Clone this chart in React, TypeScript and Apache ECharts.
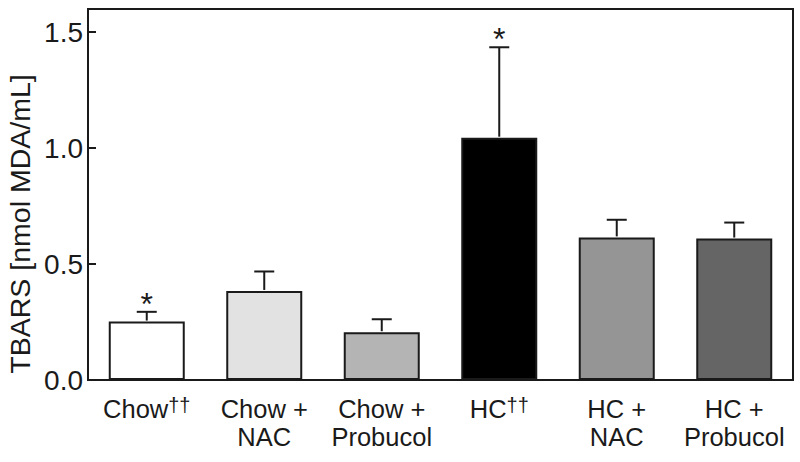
import React, { useEffect, useRef } from "react";
import * as echarts from "echarts";

const categories = ["Chow", "Chow +\nNAC", "Chow +\nProbucol", "HC", "HC +\nNAC", "HC +\nProbucol"];
const superscripts = ["††", "", "", "††", "", ""];
const means = [0.252, 0.384, 0.206, 1.045, 0.615, 0.61];
const errorTops = [0.294, 0.468, 0.262, 1.435, 0.691, 0.679];
const significance = ["*", "", "", "*", "", ""];
const barColors = ["#ffffff", "#e2e2e2", "#b4b4b4", "#000000", "#959595", "#656565"];
const yTicks = [0, 0.5, 1.0, 1.5];

const FONT = "'Liberation Sans', Arial, Helvetica, sans-serif";

export default function App() {
  const ref = useRef<HTMLDivElement>(null);
  useEffect(() => {
    document.body.style.margin = "0";
    if (!ref.current) return;
    const chart = echarts.init(ref.current, null, { renderer: "svg" });
    const option = {
      animation: false,
      backgroundColor: "#ffffff",
      textStyle: { fontFamily: FONT },
      grid: {
        left: 88,
        right: 7,
        top: 9,
        bottom: 82,
        show: true,
        borderColor: "#1a1a1a",
        borderWidth: 2,
        containLabel: false,
      },
      graphic: [
        {
          type: "text",
          x: 20,
          y: 224,
          rotation: Math.PI / 2,
          style: {
            text: "TBARS [nmol MDA/mL]",
            fontSize: 28.5,
            fontFamily: FONT,
            fill: "#1a1a1a",
            align: "center",
            verticalAlign: "middle",
          },
        },
      ],
      xAxis: {
        type: "category",
        data: categories,
        boundaryGap: true,
        axisLine: { show: true, lineStyle: { color: "#1a1a1a", width: 2 } },
        axisTick: { show: false },
        axisLabel: {
          interval: 0,
          margin: 15,
          fontSize: 25.5,
          lineHeight: 28,
          color: "#1a1a1a",
          fontFamily: FONT,
          formatter: (v: string, i: number) =>
            superscripts[i] ? `${v}{sup|${superscripts[i]}}` : v,
          rich: {
            sup: { fontSize: 20, verticalAlign: "top", color: "#1a1a1a", fontFamily: FONT, lineHeight: 28 },
          },
        },
      },
      yAxis: {
        type: "value",
        min: 0,
        max: 1.6,
        interval: 0.5,
        axisLine: { show: true, lineStyle: { color: "#1a1a1a", width: 2 } },
        axisTick: { show: true, inside: true, length: 8, lineStyle: { color: "#1a1a1a", width: 2 } },
        splitLine: { show: false },
        axisLabel: {
          margin: 5,
          fontSize: 28,
          color: "#1a1a1a",
          fontFamily: FONT,
          showMaxLabel: false,
          formatter: (v: number) => (yTicks.some((t) => Math.abs(t - v) < 1e-9) ? v.toFixed(1) : ""),
        },
      },
      series: [
        {
          type: "bar",
          barWidth: 76,
          data: means.map((m, i) => ({
            value: m,
            itemStyle: { color: barColors[i], borderColor: "#1a1a1a", borderWidth: 2 },
          })),
          z: 2,
        },
        {
          type: "custom",
          z: 3,
          data: means.map((m, i) => [i, m, errorTops[i]]),
          renderItem: (params: any, api: any) => {
            const i = api.value(0);
            const p0 = api.coord([i, api.value(1)]);
            const p1 = api.coord([i, api.value(2)]);
            const capHalf = 10;
            const children: any[] = [
              {
                type: "line",
                shape: { x1: p0[0], y1: p0[1] - 1, x2: p1[0], y2: p1[1] },
                style: { stroke: "#1a1a1a", lineWidth: 2 },
              },
              {
                type: "line",
                shape: { x1: p1[0] - capHalf, y1: p1[1], x2: p1[0] + capHalf, y2: p1[1] },
                style: { stroke: "#1a1a1a", lineWidth: 2 },
              },
            ];
            const s = significance[params.dataIndex];
            if (s) {
              children.push({
                type: "text",
                x: p1[0],
                y: p1[1] - 8,
                style: {
                  text: s,
                  fontSize: 32,
                  fontFamily: FONT,
                  fill: "#1a1a1a",
                  align: "center",
                  verticalAlign: "middle",
                },
              });
            }
            return { type: "group", children };
          },
        },
      ],
    };
    chart.setOption(option as any);
    return () => chart.dispose();
  }, []);
  return <div ref={ref} style={{ width: 800, height: 462 }} />;
}
